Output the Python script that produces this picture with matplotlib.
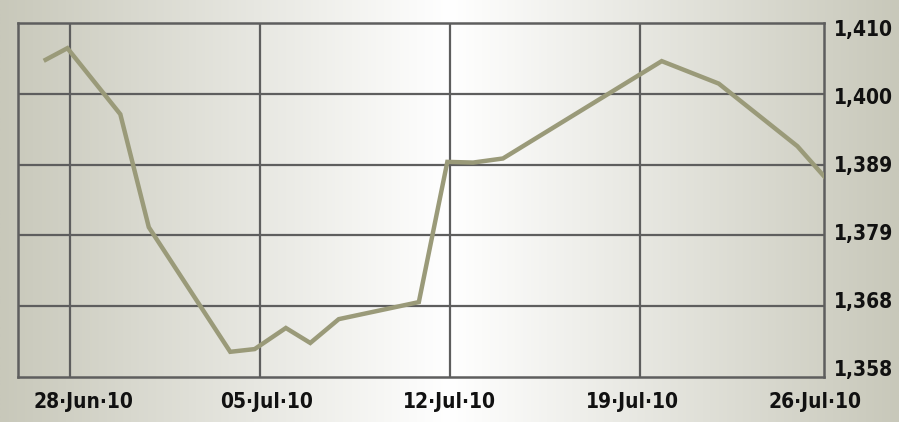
import matplotlib.pyplot as plt
import numpy as np

# days after 28 Jun 2010 and index level
days = [-0.9, -0.1, 1.85, 2.9, 5.9, 6.8, 7.95, 8.85, 9.9, 12.85, 13.9, 14.85, 15.95, 21.8, 23.9, 26.8, 27.8]
level = [1404.6, 1406.3, 1396.6, 1380.0, 1361.7, 1362.1, 1365.2, 1363.0, 1366.5, 1369.0,
         1389.6, 1389.5, 1390.1, 1404.4, 1401.1, 1391.9, 1387.4]

xtick_days = [0, 7, 14, 21, 28]
xtick_labels = ['28·Jun·10', '05·Jul·10', '12·Jul·10', '19·Jul·10', '26·Jul·10']
ytick_labels = ['1,358', '1,368', '1,379', '1,389', '1,400', '1,410']

ymin, ymax = 1358, 1410
xmin, xmax = -1.92, 27.78

grid_col = '#5e5e5e'
line_col = '#9a9a79'
font = ['DejaVu Sans', 'Liberation Sans']

fig = plt.figure(figsize=(8.99, 4.22), dpi=100)

# background: pale beige at the edges, white in the middle
bg = fig.add_axes([0, 0, 1, 1])
t = np.abs(np.linspace(-1, 1, 600))
edge = np.array([200, 200, 186]) / 255
grad = (1 - t)[:, None] * np.ones(3) + t[:, None] * edge
bg.imshow(grad[None, :, :], aspect='auto', extent=[0, 1, 0, 1])
bg.axis('off')

ax = fig.add_axes([18 / 899, 45 / 422, 806 / 899, 354 / 422])
ax.patch.set_alpha(0)
ax.set_xlim(xmin, xmax)
ax.set_ylim(ymin, ymax)

yvals = np.linspace(ymin, ymax, len(ytick_labels))
for v in yvals[1:-1]:
    ax.axhline(v, color=grid_col, lw=1.6, zorder=1)
for d in xtick_days[:-1]:
    ax.axvline(d, color=grid_col, lw=1.6, zorder=1)
for s in ax.spines.values():
    s.set_color(grid_col)
    s.set_linewidth(1.8)

ax.plot(days, level, color=line_col, lw=3.2, solid_joinstyle='miter', zorder=3)

ax.set_xticks([])
ax.set_yticks([])

# labels are spread slightly inside the grid positions, as in the original
for lab, v in zip(ytick_labels, yvals):
    f = (v - ymin) / (ymax - ymin)
    fy = 0.5 + (f - 0.5) * 0.958
    ax.text(1.012, fy, lab, transform=ax.transAxes, ha='left', va='center',
            fontsize=15, fontweight='bold', fontstretch='condensed',
            family=font, color='#111111')
for lab, d in zip(xtick_labels, xtick_days):
    f = (d - xmin) / (xmax - xmin)
    fx = 0.0189 + f * 0.9634
    ax.text(fx, -0.07, lab, transform=ax.transAxes, ha='center', va='center',
            fontsize=15, fontweight='bold', fontstretch='condensed',
            family=font, color='#111111')

fig.savefig('out.png', dpi=100)
